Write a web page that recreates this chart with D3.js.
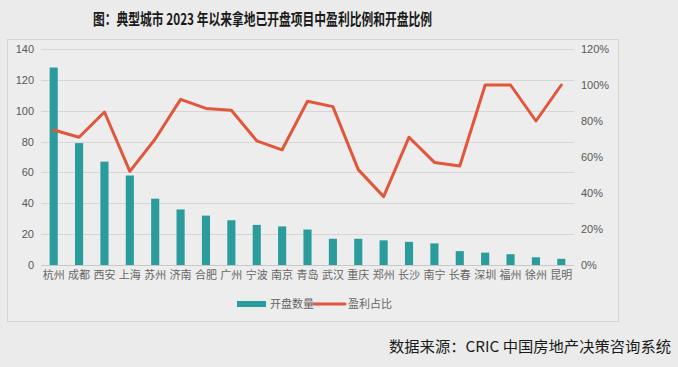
<!DOCTYPE html>
<html>
<head>
<meta charset="utf-8">
<script src="https://cdn.jsdelivr.net/npm/d3@7"></script>
<style>
  body { margin: 0; background: #ebebeb; }
  svg { display: block; }
</style>
</head>
<body>
<div id="chart"></div>
<script>
// data
const cities = ["杭州","成都","西安","上海","苏州","济南","合肥","广州","宁波","南京","青岛","武汉","重庆","郑州","长沙","南宁","长春","深圳","福州","徐州","昆明"];
const openCount = [128,79,67,58,43,36,32,29,26,25,23,17,17,16,15,14,9,8,7,5,4];
const profitShare = [75,71,85,52,70,92,87,86,69,64,91,88,53,38,71,57,55,100,100,80,100];
const leftTicks = [0,20,40,60,80,100,120,140];
const rightTicks = [0,20,40,60,80,100,120];

const W = 678, H = 367;
const margin = {top: 49, right: 104, bottom: 102, left: 41};
const width = W - margin.left - margin.right,
      height = H - margin.top - margin.bottom;

const svg = d3.select("#chart").append("svg")
  .attr("width", W)
  .attr("height", H);

// chart frame
svg.append("rect")
  .attr("x", 7.5).attr("y", 39.5)
  .attr("width", 611).attr("height", 282)
  .attr("fill", "#ededed")
  .attr("stroke", "#d4d4d4");

// title
svg.append("text")
  .attr("x", 93).attr("y", 25)
  .attr("textLength", 339)
  .attr("lengthAdjust", "spacingAndGlyphs")
  .style("font-family", "'Noto Sans CJK SC', sans-serif")
  .style("font-weight", "bold")
  .style("font-size", "16px")
  .attr("fill", "#1a1a1a")
  .text("图：典型城市 2023 年以来拿地已开盘项目中盈利比例和开盘比例");

// source note
svg.append("text")
  .attr("x", 389).attr("y", 352)
  .attr("textLength", 282)
  .attr("lengthAdjust", "spacingAndGlyphs")
  .style("font-family", "'Noto Sans CJK SC', sans-serif")
  .style("font-size", "15px")
  .attr("fill", "#1a1a1a")
  .text("数据来源：CRIC 中国房地产决策咨询系统");

const g = svg.append("g")
  .attr("transform", "translate(" + margin.left + "," + margin.top + ")");

const x = d3.scaleBand()
  .domain(cities)
  .range([0, width])
  .paddingInner(0.68)
  .paddingOuter(0.34);

const y = d3.scaleLinear().domain([0, 140]).range([height, 0]);
const y2 = d3.scaleLinear().domain([0, 120]).range([height, 0]);

// gridlines
g.append("g")
  .selectAll("line")
  .data(leftTicks.slice(1))
  .enter().append("line")
  .attr("x1", 0).attr("x2", width)
  .attr("y1", d => Math.round(y(d)) + 0.5)
  .attr("y2", d => Math.round(y(d)) + 0.5)
  .attr("stroke", "#d6d6d6");

// left axis
const yAxis = g.append("g")
  .call(d3.axisLeft(y).tickValues(leftTicks).tickSize(0).tickPadding(7));
yAxis.select(".domain").remove();
yAxis.selectAll("text")
  .style("font-family", "'Liberation Sans', Arial, sans-serif")
  .style("font-size", "11px")
  .attr("fill", "#595959");

// right axis
const y2Axis = g.append("g")
  .attr("transform", "translate(" + width + ",0)")
  .call(d3.axisRight(y2).tickValues(rightTicks).tickFormat(d => d + "%").tickSize(0).tickPadding(7));
y2Axis.select(".domain").remove();
y2Axis.selectAll("text")
  .style("font-family", "'Liberation Sans', Arial, sans-serif")
  .style("font-size", "11px")
  .attr("fill", "#595959");

// bars
g.selectAll(".bar")
  .data(openCount)
  .enter().append("rect")
  .attr("class", "bar")
  .attr("x", (d, i) => x(cities[i]))
  .attr("width", x.bandwidth())
  .attr("y", d => y(d))
  .attr("height", d => height - y(d))
  .attr("fill", "#2a9c9c");

// baseline
g.append("line")
  .attr("x1", 0).attr("x2", width)
  .attr("y1", height + 0.5).attr("y2", height + 0.5)
  .attr("stroke", "#c8c8c8");

// category axis
const xAxis = g.append("g")
  .attr("transform", "translate(0," + height + ")")
  .call(d3.axisBottom(x).tickSize(0).tickPadding(6));
xAxis.select(".domain").remove();
xAxis.selectAll("text")
  .style("font-family", "'Noto Sans CJK SC', sans-serif")
  .style("font-size", "11px")
  .attr("fill", "#666666");

// profit line
const line = d3.line()
  .x((d, i) => x(cities[i]) + x.bandwidth() / 2)
  .y(d => y2(d));

g.append("path")
  .datum(profitShare)
  .attr("d", line)
  .attr("fill", "none")
  .attr("stroke", "#e0573b")
  .attr("stroke-width", 3)
  .attr("stroke-linejoin", "round")
  .attr("stroke-linecap", "round");

// legend
const legend = svg.append("g");
legend.append("rect")
  .attr("x", 237).attr("y", 301)
  .attr("width", 29).attr("height", 6)
  .attr("fill", "#2a9c9c");
legend.append("text")
  .attr("x", 270).attr("y", 308)
  .style("font-family", "'Noto Sans CJK SC', sans-serif")
  .style("font-size", "11px")
  .attr("fill", "#666666")
  .text("开盘数量");
legend.append("line")
  .attr("x1", 314).attr("x2", 345)
  .attr("y1", 304).attr("y2", 304)
  .attr("stroke", "#e0573b")
  .attr("stroke-width", 3)
  .attr("stroke-linecap", "round");
legend.append("text")
  .attr("x", 348).attr("y", 308)
  .style("font-family", "'Noto Sans CJK SC', sans-serif")
  .style("font-size", "11px")
  .attr("fill", "#666666")
  .text("盈利占比");
</script>
</body>
</html>
